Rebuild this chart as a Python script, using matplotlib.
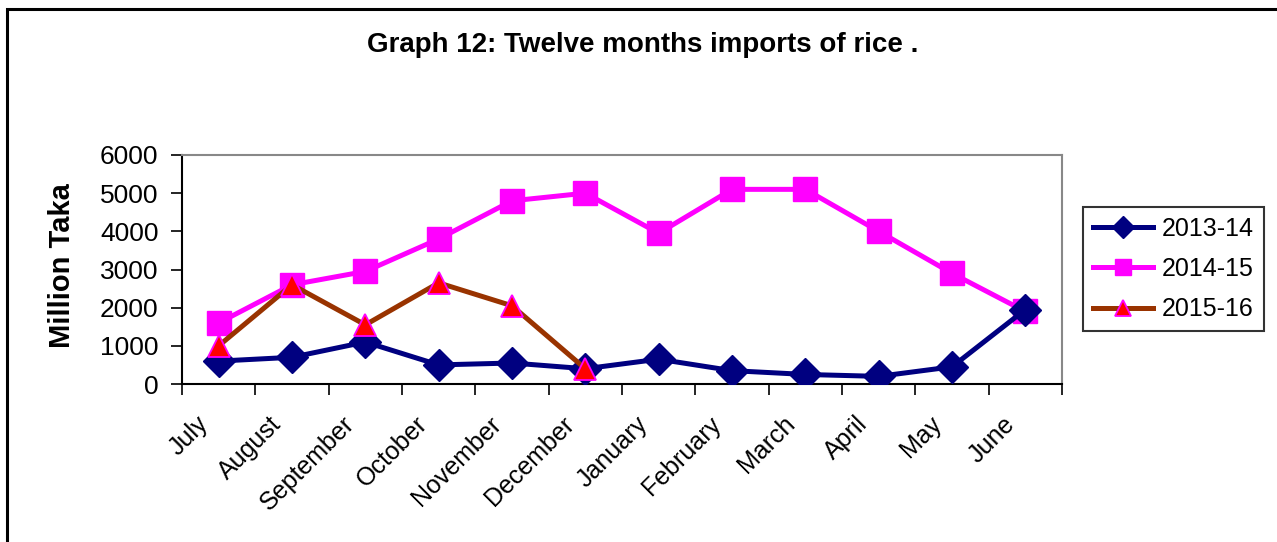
import matplotlib
matplotlib.use('Agg')
import matplotlib.pyplot as plt
import matplotlib.transforms as mtransforms
from matplotlib.patches import Rectangle
import numpy as np

plt.rcParams['font.family'] = ['Liberation Sans', 'DejaVu Sans']

# Months of the fiscal year
MONTHS = ['July', 'August', 'September', 'October', 'November', 'December',
          'January', 'February', 'March', 'April', 'May', 'June']

# Rice imports, million Taka
IMPORTS_2013 = [600, 700, 1100, 500, 550, 400, 650, 350, 250, 200, 450, 1950]
IMPORTS_2014 = [1600, 2600, 2950, 3800, 4800, 5000, 3950, 5100, 5100, 4000, 2900, 1900]
IMPORTS_2015 = [1000, 2600, 1550, 2650, 2050, 400]

YTICKS = [0, 1000, 2000, 3000, 4000, 5000, 6000]

W, H = 1277, 542
figure = plt.figure(figsize=(W / 100, H / 100), dpi=100)
ax = figure.add_axes([182 / W, 1 - 384 / H, 880 / W, 229 / H])

# Outer frame of the chart area
figure.patches.append(Rectangle((7 / W, -0.1), 1.2, 1 - 9 / H + 0.1, transform=figure.transFigure,
                                fill=False, edgecolor='black', linewidth=2.2))

x = np.arange(len(MONTHS)) + 0.5
ax.plot(x, IMPORTS_2013, color='#000080', linewidth=3.6, marker='D', markersize=16,
        markerfacecolor='#000080', markeredgecolor='#000080', label='2013-14', zorder=3)
ax.plot(x, IMPORTS_2014, color='#ff00ff', linewidth=3.6, marker='s', markersize=17,
        markerfacecolor='#ff00ff', markeredgecolor='#ff00ff', label='2014-15', zorder=2)
ax.plot(x[:len(IMPORTS_2015)], IMPORTS_2015, color='#993300', linewidth=3.6, marker='^', markersize=16,
        markerfacecolor='#ff0000', markeredgecolor='#ff00ff', markeredgewidth=1.3,
        label='2015-16', zorder=4)

ax.set_xlim(0, len(MONTHS))
ax.set_ylim(0, 6000)
ax.set_yticks(YTICKS)
ax.set_xticks(np.arange(len(MONTHS) + 1))
ax.set_xticklabels([])
ax.set_xticks(x, minor=True)
ax.set_xticklabels(MONTHS, minor=True, rotation=45, ha='right', va='top',
                   rotation_mode='anchor', fontsize=18)
ax.tick_params(axis='x', which='minor', length=0, pad=20)
ax.tick_params(axis='x', which='major', direction='out', length=8, width=1.2)
ax.tick_params(axis='y', direction='out', length=8, width=1.2, labelsize=19, pad=9)

# Month labels sit a little left of the point they name
shift = mtransforms.ScaledTranslation(-0.23, 0, figure.dpi_scale_trans)
for label in ax.xaxis.get_minorticklabels():
    label.set_transform(label.get_transform() + shift)

for side in ['top', 'right']:
    ax.spines[side].set_color('#888888')
    ax.spines[side].set_linewidth(1.5)
for side in ['left', 'bottom']:
    ax.spines[side].set_color('black')
    ax.spines[side].set_linewidth(1.5)

figure.text(62 / W, 1 - 266 / H, 'Million Taka', rotation=90, ha='center', va='center',
            fontsize=21, fontweight='bold')

figure.text(643 / W, 1 - 45 / H, 'Graph 12: Twelve months imports of rice .', ha='center',
            va='center', fontsize=20, fontweight='bold')

legend = ax.legend(loc='center left', bbox_to_anchor=(1083 / W, 1 - 269 / H),
                   bbox_transform=figure.transFigure, frameon=True, fancybox=False,
                   fontsize=18, handlelength=2.4, handletextpad=0.35, borderpad=0.4,
                   labelspacing=0.65, borderaxespad=0, markerscale=0.7)
legend.get_frame().set_edgecolor('black')
legend.get_frame().set_linewidth(1.5)

plt.savefig('out.png', dpi=100)
plt.close()
